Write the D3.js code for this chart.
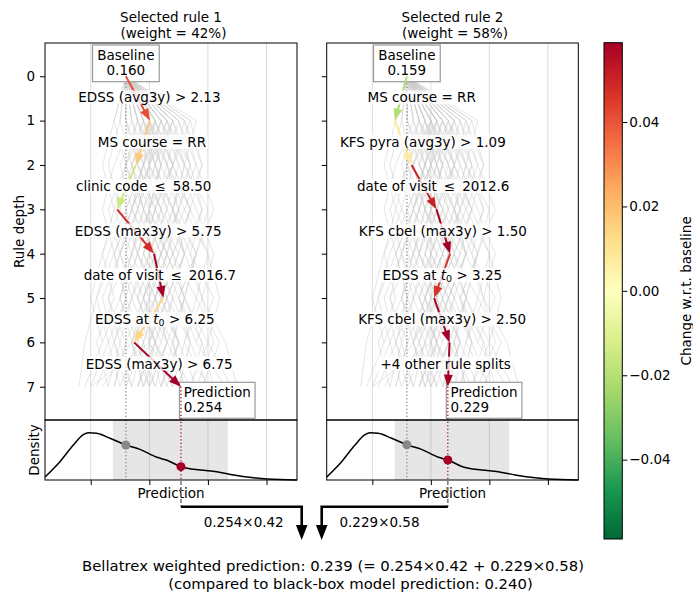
<!DOCTYPE html>
<html>
<head>
<meta charset="utf-8">
<script src="https://cdn.jsdelivr.net/npm/d3@7"></script>
<style>
  body { margin: 0; background: #fff; }
  text { font-family: "DejaVu Sans", sans-serif; font-size: 13.5px; fill: #000; }
</style>
</head>
<body>
<script>
// ---- data ----
var ruleWeights = [0.42, 0.58];
var rule1Splits = ["EDSS (avg3y) > 2.13", "MS course = RR", "clinic code \u2009\u2264\u2009 58.50",
  "EDSS (max3y) > 5.75", "date of visit \u2009\u2264\u2009 2016.7", "EDSS at t_0 > 6.25", "EDSS (max3y) > 6.75"];
var rule1Preds = [0.160, 0.201, 0.177, 0.145, 0.208, 0.224, 0.174, 0.254];
var rule2Splits = ["MS course = RR", "KFS pyra (avg3y) > 1.09", "date of visit \u2009\u2264\u2009 2012.6",
  "KFS cbel (max3y) > 1.50", "EDSS at t_0 > 3.25", "KFS cbel (max3y) > 2.50", "+4 other rule splits"];
var rule2Preds = [0.159, 0.1385, 0.167, 0.2095, 0.233, 0.2055, 0.232, 0.229];
var weightedPred = 0.239;
var blackBoxPred = 0.240;

var depthTicks = [0, 1, 2, 3, 4, 5, 6, 7];
var predGrid = [0.1, 0.2, 0.3, 0.4];

// density of the predictions (relative height)
var densityX = [0.022, 0.0475, 0.0703, 0.0874, 0.096, 0.110, 0.133, 0.160, 0.184, 0.213, 0.229, 0.254, 0.287, 0.315, 0.344, 0.378, 0.401, 0.452];
var densityY = [0.05, 0.305, 0.583, 0.755, 0.788, 0.778, 0.695, 0.583, 0.511, 0.378, 0.333, 0.222, 0.167, 0.139, 0.083, 0.038, 0.017, 0.0];
var densityBand = [0.138, 0.334];

// other rules of the forest (predictions from depth 1 down)
var otherPaths = [
  [0.21, 0.24, 0.22, 0.26, 0.23, 0.27, 0.25],
  [0.19, 0.17, 0.20, 0.18, 0.22, 0.19, 0.21],
  [0.23, 0.26, 0.24, 0.28, 0.25, 0.29, 0.31],
  [0.14, 0.16, 0.13, 0.15, 0.12, 0.14, 0.11],
  [0.20, 0.22, 0.19, 0.23, 0.21, 0.25, 0.22],
  [0.25, 0.23, 0.27, 0.24, 0.28, 0.26, 0.30],
  [0.18, 0.15, 0.17, 0.14, 0.16, 0.13, 0.15],
  [0.22, 0.20, 0.24, 0.21, 0.19, 0.23, 0.20],
  [0.27, 0.29, 0.26, 0.30, 0.28, 0.32, 0.29],
  [0.15, 0.13, 0.15, 0.12, 0.14, 0.11, 0.13],
  [0.21, 0.18, 0.21, 0.25, 0.22, 0.20, 0.24],
  [0.24, 0.27, 0.29, 0.27, 0.31, 0.28, 0.33],
  [0.19, 0.21, 0.18, 0.16, 0.19, 0.17, 0.19],
  [0.17, 0.19, 0.16, 0.13, 0.11, 0.13, 0.10],
  [0.26, 0.24, 0.21, 0.24, 0.26, 0.23, 0.27],
  [0.20, 0.24, 0.27, 0.25, 0.22, 0.25, 0.28],
  [0.22, 0.19, 0.17, 0.20, 0.23, 0.21, 0.18],
  [0.18, 0.20, 0.23, 0.20, 0.17, 0.15, 0.17],
  [0.23, 0.21, 0.19, 0.22, 0.20, 0.24, 0.26],
  [0.15, 0.17, 0.19, 0.17, 0.15, 0.12, 0.09],
  [0.21, 0.23, 0.25, 0.23, 0.26, 0.30, 0.27],
  [0.24, 0.22, 0.20, 0.18, 0.21, 0.19, 0.16],
  [0.19, 0.16, 0.14, 0.12, 0.10, 0.12],
  [0.28, 0.26, 0.30, 0.28, 0.25, 0.28],
  [0.20, 0.18, 0.22, 0.20, 0.18, 0.21, 0.23],
  [0.22, 0.25, 0.23, 0.20, 0.24, 0.22],
  [0.18, 0.22, 0.20, 0.23, 0.26, 0.24, 0.22],
  [0.17, 0.14, 0.12, 0.14, 0.11, 0.09, 0.08],
  [0.25, 0.28, 0.25, 0.22, 0.25, 0.27, 0.30],
  [0.21, 0.19, 0.16, 0.18, 0.15, 0.18, 0.20],
  [0.23, 0.25, 0.28, 0.31, 0.29, 0.33, 0.35],
  [0.19, 0.23, 0.21, 0.19, 0.22, 0.25, 0.23],
  [0.20, 0.17, 0.19, 0.22, 0.19, 0.16, 0.14],
  [0.26, 0.29, 0.27, 0.24, 0.21, 0.23, 0.21],
  [0.14, 0.12, 0.14, 0.17, 0.15, 0.17, 0.12],
  [0.22, 0.26, 0.24, 0.27, 0.29, 0.26, 0.24],
  [0.18, 0.21, 0.24, 0.22, 0.19, 0.22, 0.19],
  [0.21, 0.24, 0.21, 0.18, 0.16, 0.19, 0.17],
  [0.24, 0.21, 0.23, 0.26, 0.24, 0.21, 0.19],
  [0.20, 0.22, 0.25, 0.28, 0.26, 0.24, 0.26],
  [0.16, 0.18, 0.21, 0.19, 0.23, 0.20, 0.10],
  [0.27, 0.24, 0.27, 0.30, 0.32, 0.30, 0.34],
  [0.20, 0.16, 0.19, 0.17, 0.13, 0.16, 0.14],
  [0.23, 0.20, 0.17, 0.21, 0.18, 0.21, 0.25],
  [0.19, 0.22, 0.20, 0.17, 0.20, 0.18, 0.21],
  [0.25, 0.27, 0.24, 0.26, 0.23, 0.25, 0.22],
  [0.17, 0.20, 0.18, 0.21, 0.24, 0.27, 0.25],
  [0.22, 0.19, 0.22, 0.19, 0.17, 0.14, 0.16],
  [0.20, 0.23, 0.26, 0.23, 0.20, 0.17, 0.19],
  [0.24, 0.20, 0.18, 0.15, 0.17, 0.20, 0.22],
  [0.21, 0.17, 0.15, 0.18, 0.21, 0.18, 0.15],
  [0.26, 0.28, 0.31, 0.28, 0.26, 0.29, 0.27],
  [0.18, 0.16, 0.18, 0.15, 0.13, 0.15, 0.13],
  [0.23, 0.27, 0.25, 0.22, 0.19, 0.21, 0.24],
  [0.19, 0.21, 0.24, 0.26, 0.29, 0.31, 0.28],
  [0.22, 0.24, 0.20, 0.23, 0.21, 0.17, 0.20],
  [0.20, 0.19, 0.22, 0.24, 0.21, 0.23, 0.20],
  [0.16, 0.19, 0.17, 0.15, 0.18, 0.21, 0.18],
  [0.24, 0.26, 0.29, 0.26, 0.23, 0.20, 0.18],
  [0.21, 0.20, 0.17, 0.14, 0.16, 0.14, 0.17]
];

var cbarTicks = [0.04, 0.02, 0.00, -0.02, -0.04];
var cbarLimit = 0.0588;

// ---- layout ----
var w = 693, h = 593;
var panels = [
  { x0: 45, x1: 297, splits: rule1Splits, preds: rule1Preds, weight: ruleWeights[0], n: 1 },
  { x0: 326.7, x1: 578.3, splits: rule2Splits, preds: rule2Preds, weight: ruleWeights[1], n: 2 }
];
var treeTop = 43, treeBottom = 420, densBottom = 480;
var joinY = 506.7, arrowTipY = 540;

var svg = d3.select("body").append("svg")
  .attr("width", w)
  .attr("height", h);

var yScale = d3.scaleLinear().domain([-0.75, 7.75]).range([treeTop, treeBottom]);
var densY = d3.scaleLinear().domain([0, 1]).range([densBottom, treeBottom]);

var brewer = d3.schemeRdYlGn[11].slice().reverse();
var colorScale = d3.scaleLinear()
  .domain(d3.range(11).map(function(i) { return -cbarLimit + i * 2 * cbarLimit / 10; }))
  .range(brewer)
  .clamp(true);

var fmt3 = d3.format(".3f");

function addSplitText(sel, str) {
  var parts = str.split("t_0");
  if (parts.length == 1) { sel.text(str); return; }
  sel.append("tspan").text(parts[0]);
  sel.append("tspan").attr("font-style", "italic").text("t");
  sel.append("tspan").attr("dy", 3).style("font-size", "9.5px").text("0");
  sel.append("tspan").attr("dy", -3).text(parts[1]);
}

function drawArrow(g, x1, y1, x2, y2, color, hl, hw, lw) {
  var dx = x2 - x1, dy = y2 - y1, L = Math.hypot(dx, dy);
  var ux = dx / L, uy = dy / L;
  var bx = x2 - ux * hl, by = y2 - uy * hl;
  var px = -uy * hw / 2, py = ux * hw / 2;
  g.append("line")
    .attr("x1", x1).attr("y1", y1)
    .attr("x2", bx + ux).attr("y2", by + uy)
    .attr("stroke", color).attr("stroke-width", lw);
  g.append("path")
    .attr("d", "M" + x2 + "," + y2 + "L" + (bx + px) + "," + (by + py) + "L" + (bx - px) + "," + (by - py) + "Z")
    .attr("fill", color);
}

panels.forEach(function(p, pi) {
  var x = d3.scaleLinear().domain([0.022, 0.452]).range([p.x0, p.x1]);
  p.x = x;
  var g = svg.append("g");
  var cx = (p.x0 + p.x1) / 2;
  var base = p.preds[0], pred = p.preds[p.preds.length - 1];

  // titles
  g.append("text").attr("x", cx).attr("y", 16.7).attr("text-anchor", "middle")
    .attr("dominant-baseline", "central").text("Selected rule " + p.n);
  g.append("text").attr("x", cx + 2.5).attr("y", 33.3).attr("text-anchor", "middle")
    .attr("dominant-baseline", "central").text("(weight = " + Math.round(p.weight * 100) + "%)");

  // grid
  g.selectAll(".grid").data(predGrid).enter().append("line")
    .attr("x1", function(d) { return x(d); }).attr("x2", function(d) { return x(d); })
    .attr("y1", treeTop).attr("y2", densBottom)
    .attr("stroke", "#dcdcdc").attr("stroke-width", 1);

  // other rules
  var line = d3.line()
    .x(function(d) { return x(d); })
    .y(function(d, i) { return yScale(i); });
  g.selectAll(".other").data(otherPaths).enter().append("path")
    .attr("d", function(d) { return line([base].concat(d)); })
    .attr("fill", "none")
    .attr("stroke", "#cccccc")
    .attr("stroke-opacity", 0.5)
    .attr("stroke-width", 1);

  // baseline dotted line
  g.append("line")
    .attr("x1", x(base)).attr("x2", x(base))
    .attr("y1", yScale(0)).attr("y2", treeBottom)
    .attr("stroke", "#888").attr("stroke-width", 1.3).attr("stroke-dasharray", "1.3,2.2");

  // baseline box
  var bb = g.append("g");
  var bt1 = bb.append("text").attr("x", x(base)).attr("y", 55).attr("text-anchor", "middle")
    .attr("dominant-baseline", "central").text("Baseline");
  bb.append("text").attr("x", x(base)).attr("y", 70).attr("text-anchor", "middle")
    .attr("dominant-baseline", "central").text(fmt3(base));
  var bw = bt1.node().getComputedTextLength() + 9.5;
  bb.insert("rect", "text")
    .attr("x", x(base) - bw / 2).attr("y", 45)
    .attr("width", bw).attr("height", 36.7)
    .attr("fill", "#fff").attr("stroke", "#999").attr("stroke-width", 1.2);

  // prediction box
  var pb = g.append("g");
  var pt1 = pb.append("text").attr("x", x(pred) + 2.7).attr("y", 391.7)
    .attr("dominant-baseline", "central").text("Prediction");
  pb.append("text").attr("x", x(pred) + 2.7).attr("y", 406.7)
    .attr("dominant-baseline", "central").text(fmt3(pred));
  var pw = pt1.node().getComputedTextLength() + 8.5;
  pb.insert("rect", "text")
    .attr("x", x(pred) - 1.5).attr("y", 382.3)
    .attr("width", pw).attr("height", 36)
    .attr("fill", "#fff").attr("stroke", "#999").attr("stroke-width", 1.2);

  // rule path arrows
  var ag = g.append("g");
  for (var i = 0; i < p.preds.length - 1; i++) {
    var c = colorScale(p.preds[i + 1] - base);
    drawArrow(ag, x(p.preds[i]), yScale(i), x(p.preds[i + 1]), yScale(i + 1), c, 12, 9, 2);
  }

  // split labels
  p.splits.forEach(function(s, i) {
    var mid = (x(p.preds[i]) + x(p.preds[i + 1])) / 2;
    var lx = (mid + cx) / 2 - 5;
    var lg = g.append("g");
    var t = lg.append("text").attr("x", lx).attr("y", yScale(i + 0.5) - 1)
      .attr("text-anchor", "middle").attr("dominant-baseline", "central");
    addSplitText(t, s);
    var b = t.node().getBBox();
    lg.insert("rect", "text")
      .attr("x", b.x - 2).attr("y", b.y + 1)
      .attr("width", b.width + 4).attr("height", b.height - 2)
      .attr("fill", "#fff").attr("fill-opacity", 0.8);
  });

  // prediction dotted line through both panels
  g.append("line")
    .attr("x1", x(pred)).attr("x2", x(pred))
    .attr("y1", yScale(7)).attr("y2", densBottom)
    .attr("stroke", "#a50026").attr("stroke-width", 1.3).attr("stroke-dasharray", "1.3,2.2");

  // density panel
  g.append("rect")
    .attr("x", x(densityBand[0])).attr("y", treeBottom)
    .attr("width", x(densityBand[1]) - x(densityBand[0])).attr("height", densBottom - treeBottom)
    .attr("fill", "#808080").attr("fill-opacity", 0.2);
  g.append("line")
    .attr("x1", x(base)).attr("x2", x(base))
    .attr("y1", treeBottom).attr("y2", densBottom)
    .attr("stroke", "#888").attr("stroke-width", 1.3).attr("stroke-dasharray", "1.3,2.2");
  var dens = densityX.map(function(d, i) { return [d, densityY[i]]; });
  var dline = d3.line()
    .x(function(d) { return x(d[0]); })
    .y(function(d) { return densY(d[1]); })
    .curve(d3.curveMonotoneX);
  g.append("path").attr("d", dline(dens))
    .attr("fill", "none").attr("stroke", "#000").attr("stroke-width", 1.5);
  var interp = d3.scaleLinear().domain(densityX).range(densityY);
  g.append("circle").attr("cx", x(base)).attr("cy", densY(interp(base))).attr("r", 4.5).attr("fill", "#888");
  g.append("circle").attr("cx", x(pred)).attr("cy", densY(interp(pred))).attr("r", 4.5).attr("fill", "#a50026");

  // spines
  g.append("rect").attr("x", p.x0).attr("y", treeTop)
    .attr("width", p.x1 - p.x0).attr("height", treeBottom - treeTop)
    .attr("fill", "none").attr("stroke", "#000").attr("stroke-width", 1);
  g.append("rect").attr("x", p.x0).attr("y", treeBottom)
    .attr("width", p.x1 - p.x0).attr("height", densBottom - treeBottom)
    .attr("fill", "none").attr("stroke", "#000").attr("stroke-width", 1);

  // axes
  var yAxis = d3.axisLeft(yScale).tickValues(depthTicks).tickSize(5).tickPadding(5);
  if (pi > 0) yAxis.tickFormat("");
  var ya = g.append("g").attr("transform", "translate(" + p.x0 + ",0)").call(yAxis);
  ya.select(".domain").remove();
  ya.selectAll("text").style("font-size", "13.5px").attr("font-family", null);

  var xa = g.append("g").attr("transform", "translate(0," + densBottom + ")")
    .call(d3.axisBottom(x).tickValues(predGrid).tickFormat("").tickSize(5));
  xa.select(".domain").remove();

  g.append("text").attr("x", cx).attr("y", 493.3).attr("text-anchor", "middle")
    .attr("dominant-baseline", "central").text("Prediction");

  // dashed stub below the density
  g.append("line")
    .attr("x1", x(pred)).attr("x2", x(pred))
    .attr("y1", densBottom + 1).attr("y2", joinY)
    .attr("stroke", "#777").attr("stroke-width", 1.5).attr("stroke-dasharray", "4,2");
});

// y labels
svg.append("text").attr("transform", "translate(19," + ((treeTop + treeBottom) / 2) + ") rotate(-90)")
  .attr("text-anchor", "middle").attr("dominant-baseline", "central").text("Rule depth");
svg.append("text").attr("transform", "translate(34," + ((treeBottom + densBottom) / 2) + ") rotate(-90)")
  .attr("text-anchor", "middle").attr("dominant-baseline", "central").text("Density");

// connectors to the weighted result
var joinXs = [301.7, 321.7];
panels.forEach(function(p, pi) {
  var pred = p.preds[p.preds.length - 1];
  var px = p.x(pred);
  var jx = joinXs[pi];
  svg.append("path")
    .attr("d", "M" + px + "," + joinY + "H" + jx + "V" + (arrowTipY - 12))
    .attr("fill", "none").attr("stroke", "#000").attr("stroke-width", 2.6);
  svg.append("path")
    .attr("d", "M" + jx + "," + arrowTipY + "L" + (jx - 5.8) + "," + (arrowTipY - 15) + "L" + (jx + 5.8) + "," + (arrowTipY - 15) + "Z")
    .attr("fill", "#000");
  svg.append("text")
    .attr("x", pi == 0 ? 243.7 : 379.5).attr("y", 521.7)
    .attr("text-anchor", "middle").attr("dominant-baseline", "central")
    .text(fmt3(pred) + "\u00d7" + d3.format(".2f")(p.weight));
});

var p1 = rule1Preds[rule1Preds.length - 1], p2 = rule2Preds[rule2Preds.length - 1];
svg.append("text").attr("x", 333).attr("y", 565.7).attr("text-anchor", "middle")
  .attr("dominant-baseline", "central").style("font-size", "14.85px")
  .text("Bellatrex weighted prediction: " + fmt3(weightedPred) + " (= " + fmt3(p1) + "\u00d7" + ruleWeights[0].toFixed(2)
    + " + " + fmt3(p2) + "\u00d7" + ruleWeights[1].toFixed(2) + ")");
svg.append("text").attr("x", 350.5).attr("y", 584).attr("text-anchor", "middle")
  .attr("dominant-baseline", "central").style("font-size", "14.85px")
  .text("(compared to black-box model prediction: " + fmt3(blackBoxPred) + ")");

// colorbar
var cbX = 604, cbW = 18.3, cbTop = 42.7, cbBottom = 539;
var cScale = d3.scaleLinear().domain([-cbarLimit, cbarLimit]).range([cbBottom, cbTop]);
var grad = svg.append("defs").append("linearGradient")
  .attr("id", "cbgrad").attr("x1", 0).attr("y1", 1).attr("x2", 0).attr("y2", 0);
d3.range(0, 1.0001, 0.02).forEach(function(t) {
  grad.append("stop").attr("offset", t).attr("stop-color", colorScale(-cbarLimit + t * 2 * cbarLimit));
});
svg.append("rect").attr("x", cbX).attr("y", cbTop).attr("width", cbW).attr("height", cbBottom - cbTop)
  .attr("fill", "url(#cbgrad)").attr("stroke", "#000").attr("stroke-width", 1);
var ca = svg.append("g").attr("transform", "translate(" + (cbX + cbW) + ",0)")
  .call(d3.axisRight(cScale).tickValues(cbarTicks).tickFormat(d3.format(".2f")).tickSize(5).tickPadding(2));
ca.select(".domain").remove();
ca.selectAll("text").style("font-size", "13.5px").attr("font-family", null);
svg.append("text").attr("transform", "translate(685.5," + ((cbTop + cbBottom) / 2) + ") rotate(-90)")
  .attr("text-anchor", "middle").attr("dominant-baseline", "central").text("Change w.r.t. baseline");
</script>
</body>
</html>
